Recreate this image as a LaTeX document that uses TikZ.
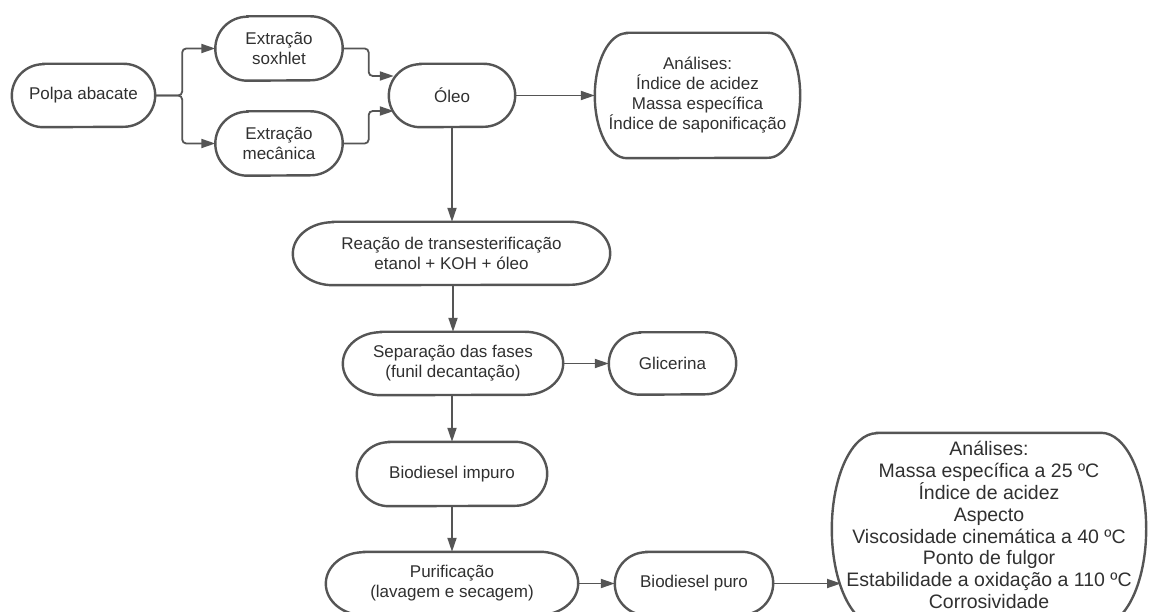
\documentclass[tikz,border=0pt]{standalone}
\usepackage{fontspec}
\setmainfont{Liberation Sans}
\usetikzlibrary{arrows.meta}
\definecolor{ln}{HTML}{555555}
\definecolor{tx}{HTML}{303030}
% outline with half-elliptic ends: #1 node, #2 x radius, #3 y radius (half height)
\newcommand\pillout[3]{\draw[shp] ([xshift=#2]#1.north west) -- ([xshift=-#2]#1.north east)
  arc[start angle=90,end angle=-90,x radius=#2,y radius=#3] -- ([xshift=#2]#1.south west)
  arc[start angle=270,end angle=90,x radius=#2,y radius=#3] -- cycle;}
\begin{document}
\begin{tikzpicture}[x=1pt,y=1pt,
  box/.style={draw=none, align=center, text=tx, inner sep=0pt,
    font=\fontsize{17}{20}\selectfont},
  bigbox/.style={box, font=\fontsize{19.5}{21.9}\selectfont},
  shp/.style={draw=ln, line width=2.4pt, fill=white},
  arr/.style={draw=ln, line width=1.8pt, rounded corners=4pt,
    -{Triangle[length=14pt,width=9pt]}}]
\path[use as bounding box] (0,0) rectangle (1149,-612);
\clip (0,0) rectangle (1149,-612);
% nodes
\node[box, minimum width=143, minimum height=63] (polpa) at (83.5,-95.5) {};
\node[box, minimum width=127, minimum height=64] (sox) at (279,-48.5) {};
\node[box, minimum width=127, minimum height=64] (mec) at (279,-143.5) {};
\node[box, minimum width=126, minimum height=63] (oleo) at (452,-95.5) {};
\node[box, minimum width=205, minimum height=125] (ana1) at (697.5,-95.5) {};
\node[box, minimum width=317, minimum height=63] (reac) at (451.5,-253.5) {};
\node[box, minimum width=220, minimum height=63] (sep) at (453,-363.5) {};
\node[box, minimum width=127, minimum height=62] (glic) at (672.5,-363.5) {};
\node[box, minimum width=190, minimum height=64] (imp) at (452,-474) {};
\node[box, minimum width=252, minimum height=63] (purif) at (452,-583.5) {};
\node[box, minimum width=158, minimum height=63] (puro) at (694,-583.5) {};
\node[box, minimum width=314, minimum height=192] (ana2) at (989,-529) {};
% outlines
\pillout{polpa}{31.5}{31.5}
\pillout{sox}{32}{32}
\pillout{mec}{32}{32}
\pillout{oleo}{31.5}{31.5}
\pillout{ana1}{32}{62.5}
\pillout{reac}{40}{31.5}
\pillout{sep}{38}{31.5}
\pillout{glic}{31}{31}
\pillout{imp}{32}{32}
\pillout{purif}{38}{31.5}
\pillout{puro}{31.5}{31.5}
\pillout{ana2}{45}{96}
% texts
\node[box] at (polpa) {Polpa abacate};
\node[box] at (sox) {Extração\\soxhlet};
\node[box] at (mec) {Extração\\mecânica};
\node[box] at (oleo) {Óleo};
\node[box] at (ana1) {Análises:\\Índice de acidez\\Massa específica\\Índice de saponificação};
\node[box] at (reac) {Reação de transesterificação\\etanol + KOH + óleo};
\node[box] at (sep) {Separação das fases\\(funil decantação)};
\node[box] at (glic) {Glicerina};
\node[box] at (imp) {Biodiesel impuro};
\node[box] at (purif) {Purificação\\(lavagem e secagem)};
\node[box] at (puro) {Biodiesel puro};
\node[bigbox] at ([yshift=4]ana2) {Análises:\\Massa específica a 25 ºC\\Índice de acidez\\Aspecto\\Viscosidade cinemática a 40 ºC\\Ponto de fulgor\\Estabilidade a oxidação a 110 ºC\\Corrosividade};
% connectors
\coordinate (oleoA) at ([xshift=5,yshift=19.5]oleo.west);
\coordinate (oleoB) at ([xshift=5,yshift=-15.5]oleo.west);
\coordinate (ana2in) at (841,-583.5);
\draw[arr] (polpa.east) -- ++(27,0) |- (sox.west);
\draw[arr] (polpa.east) -- ++(27,0) |- (mec.west);
\draw[arr] (sox.east) -- ++(26,0) |- (oleoA);
\draw[arr] (mec.east) -- ++(26,0) |- (oleoB);
\draw[arr] (oleo.east) -- (ana1.west);
\draw[arr] (oleo.south) -- (oleo.south |- reac.north);
\draw[arr] (reac.south -| sep.north) -- (sep.north);
\draw[arr] (sep.east) -- (glic.west);
\draw[arr] (sep.south -| imp.north) -- (imp.north);
\draw[arr] (imp.south) -- (purif.north);
\draw[arr] (purif.east) -- (puro.west);
\draw[arr] (puro.east) -- (ana2in);
\end{tikzpicture}
\end{document}
